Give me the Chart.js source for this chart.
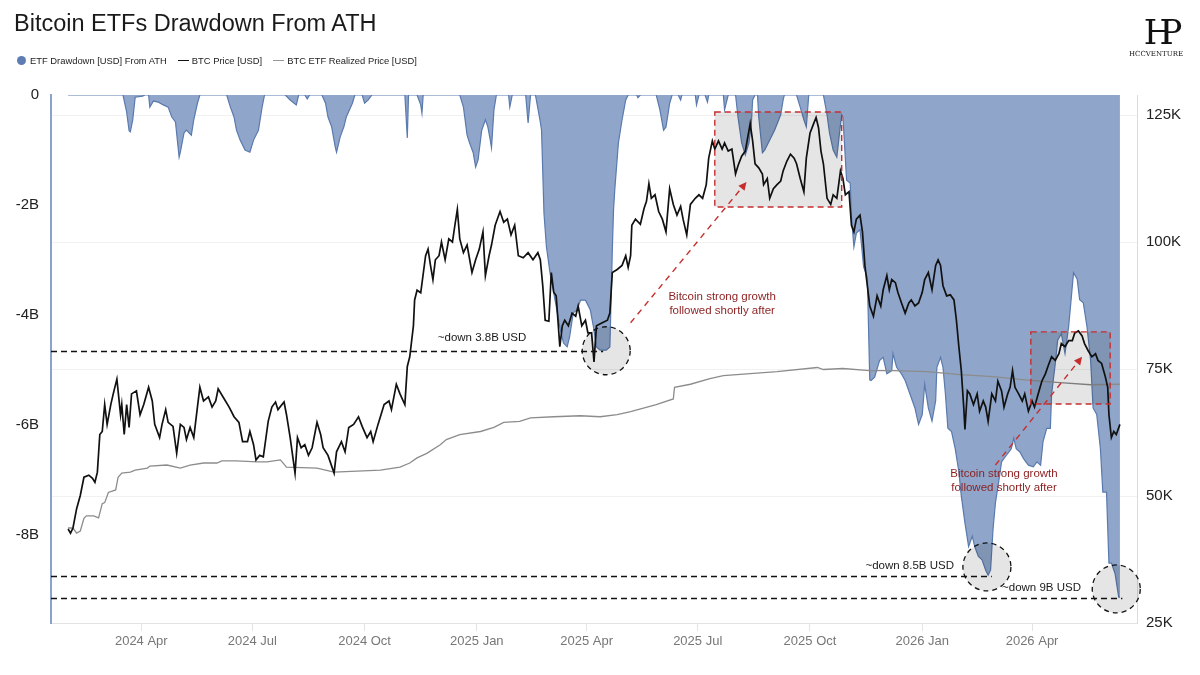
<!DOCTYPE html>
<html><head><meta charset="utf-8">
<script src="https://cdn.jsdelivr.net/npm/chart.js@4.4.1/dist/chart.umd.min.js"></script>
<style>
html,body{margin:0;padding:0;background:#fff;}
#wrap{position:relative;width:1200px;height:675px;font-family:"Liberation Sans",Arial,Helvetica,sans-serif;}
#c{position:absolute;left:0;top:0;}
#title{position:absolute;left:14px;top:10px;font-size:23.5px;color:#1a1a1a;z-index:2;}
#legend{position:absolute;left:17px;top:55px;font-size:9.4px;color:#222;display:flex;align-items:center;white-space:nowrap;z-index:2;}
#legend .it{display:flex;align-items:center;margin-right:11px;}
#legend .dot{width:9px;height:9px;border-radius:50%;background:#5d7db3;margin-right:4px;}
#legend .ln{width:11px;height:1.5px;margin-right:3px;}
#logo{position:absolute;left:1128px;top:14px;width:56px;text-align:center;z-index:2;color:#111;font-family:"DejaVu Serif","Liberation Serif",serif;}
#logo .big{font-size:34px;line-height:36px;letter-spacing:-14px;font-weight:normal;}
#logo .small{font-size:7px;line-height:8px;letter-spacing:0px;}
</style></head>
<body>
<div id="wrap">
  <canvas id="c" width="1200" height="675"></canvas>
  <div id="title">Bitcoin ETFs Drawdown From ATH</div>
  <div id="legend">
    <div class="it"><div class="dot"></div>ETF Drawdown [USD] From ATH</div>
    <div class="it"><div class="ln" style="background:#111"></div>BTC Price [USD]</div>
    <div class="it"><div class="ln" style="background:#999"></div>BTC ETF Realized Price [USD]</div>
  </div>
  <div id="logo"><div class="big">HP</div><div class="small">HCCVENTURE</div></div>
</div>
<script>
// x values: days since 2024-01-01
const monthTickDays = [91,182,274,366,456,547,639,731,821];
const monthTickLabels = ['2024 Apr','2024 Jul','2024 Oct','2025 Jan','2025 Apr','2025 Jul','2025 Oct','2026 Jan','2026 Apr'];
const leftTicks = [-8,-6,-4,-2,0];
const rightTicks = [25,50,75,100,125];

// ETF drawdown from ATH, billions USD
const drawdownB = [[31,0],[76,0],[79,-0.31],[81,-0.65],[82,-0.67],[84,-0.45],[86,-0.04],[92,-0.02],[94,0],
[97,0],[98,-0.22],[101,-0.11],[105,-0.13],[109,-0.18],[113,-0.22],[116,-0.4],[119,-0.49],[122,-1.13],[123,-1.04],[126,-0.69],[128,-0.64],[132,-0.73],[134,-0.45],[137,-0.15],[139,0],
[161,0],[164,-0.22],[167,-0.4],[169,-0.64],[172,-0.82],[176,-1.0],[180,-1.04],[183,-0.82],[187,-0.64],[190,-0.22],[192,0],
[209,0],[213,-0.09],[218,-0.18],[220,0],[225,0],[227,-0.07],[229,0],
[239,0],[242,-0.15],[244,-0.4],[247,-0.58],[250,-0.95],[251,-1.04],[254,-0.76],[257,-0.58],[259,-0.4],[264,-0.15],[266,0],
[272,0],[274,-0.15],[277,-0.09],[280,0],
[307,0],[309,-0.78],[310,0],
[317,0],[320,-0.18],[321,-0.33],[322,0],
[352,0],[355,-0.22],[358,-0.73],[360,-0.87],[363,-1.05],[365,-1.31],[367,-1.18],[370,-0.64],[373,-0.45],[375,-0.58],[377,-0.82],[378,-0.96],[380,-0.27],[382,0],
[392,0],[393,-0.22],[395,0],
[406,0],[408,-0.51],[410,0],
[414,0],[418,-0.49],[419,-0.64],[421,-2.15],[423,-2.76],[426,-3.24],[429,-3.6],[432,-3.96],[434,-4.22],[437,-4.51],[440,-4.58],[442,-4.4],[445,-3.96],[448,-3.91],[451,-3.73],[455,-3.73],[459,-3.91],[462,-4.27],[464,-4.58],[467,-4.64],[472,-4.64],[475,-4.58],[476,-3.73],[477,-2.82],[478,-2.09],[479,-1.73],[482,-0.87],[485,-0.45],[488,-0.09],[490,0],
[497,0],[498,-0.05],[500,0],
[513,0],[516,-0.27],[519,-0.64],[521,-0.58],[524,-0.15],[526,0],
[531,0],[533,-0.09],[534,0],
[545,0],[546,-0.18],[548,0],
[553,0],[555,-0.13],[556,0],
[568,0],[569,-0.27],[572,0],
[578,0],[580,-0.4],[583,-0.87],[586,-1.09],[589,-0.87],[591,-0.51],[592,-0.09],[594,0],
[596,0],[597,-0.4],[600,-1.05],[602,-1.0],[606,-0.82],[610,-0.64],[615,-0.36],[617,-0.09],[618,0],
[628,0],[631,-0.22],[634,-0.45],[636,-0.58],[638,0],
[650,0],[653,-0.36],[655,-0.69],[658,-1.0],[661,-1.13],[663,-0.73],[665,-0.36],[666,-0.4],[669,-1.55],[672,-1.6],[673,-2.22],[675,-2.76],[677,-2.51],[680,-2.45],[683,-3.13],[686,-3.31],[688,-5.18],[689,-5.19],[692,-5.13],[696,-4.83],[699,-4.77],[702,-5.07],[706,-5.01],[707,-4.70],[710,-4.95],[714,-5.07],[717,-5.19],[721,-5.44],[725,-5.69],[728,-5.99],[731,-5.81],[733,-5.26],[736,-5.69],[739,-5.93],[742,-5.56],[743,-4.95],[746,-4.77],[748,-4.95],[750,-5.44],[752,-6.06],[755,-6.12],[758,-6.43],[761,-6.85],[763,-7.29],[766,-7.78],[769,-8.21],[772,-8.02],[774,-8.21],[777,-8.39],[780,-8.45],[783,-8.64],[785,-8.73],[787,-8.64],[789,-7.90],[791,-7.41],[794,-6.98],[796,-6.67],[800,-6.55],[804,-6.43],[806,-6.24],[808,-6.43],[811,-6.49],[814,-6.61],[818,-6.73],[822,-6.76],[825,-6.67],[828,-6.73],[830,-6.30],[833,-6.06],[836,-6.06],[837,-5.44],[840,-4.89],[842,-4.46],[845,-4.34],[848,-4.70],[851,-4.21],[853,-3.72],[855,-3.23],[858,-3.35],[860,-3.72],[863,-3.78],[866,-4.21],[869,-4.83],[871,-5.69],[874,-5.81],[877,-6.43],[879,-7.22],[882,-7.22],[884,-8.51],[886,-8.51],[889,-8.70],[892,-9.13],[893,-9.13]];

// BTC price, thousands USD
const btcPrice = [[31,43.5],[33,42.7],[35,43.7],[38,47.5],[41,50.1],[44,53.7],[48,54.1],[51,53.5],[53,52.7],[55,54.7],[57,62.1],[59,62.7],[61,68.0],[63,64.1],[66,68.0],[68,70.1],[71,73.0],[74,66.0],[75,68.0],[77,62.1],[79,68.0],[81,63.5],[83,70.1],[87,70.7],[90,66.0],[93,68.0],[97,71.4],[100,68.7],[102,64.1],[106,61.5],[108,64.1],[111,67.0],[113,64.5],[117,63.7],[120,58.4],[123,64.1],[126,63.5],[128,61.1],[131,63.5],[134,61.5],[137,67.5],[139,71.4],[142,68.7],[146,69.5],[149,67.5],[152,68.7],[154,71.1],[158,69.5],[163,67.5],[167,65.6],[171,64.5],[174,60.7],[178,60.7],[180,62.7],[183,60.1],[185,57.1],[188,58.0],[191,57.7],[195,64.7],[198,67.5],[201,68.5],[203,67.0],[208,68.5],[210,66.0],[213,61.5],[217,54.5],[219,61.5],[222,59.5],[225,60.1],[228,58.0],[231,59.5],[235,64.5],[238,62.1],[240,59.5],[244,58.0],[249,54.5],[251,58.7],[255,60.7],[258,58.7],[261,63.5],[265,64.1],[269,65.6],[272,63.7],[276,61.5],[279,62.7],[281,60.7],[285,64.1],[290,68.0],[294,68.7],[296,67.0],[300,72.0],[303,70.1],[307,68.0],[309,75.5],[311,77.4],[314,83.5],[315,88.6],[317,90.5],[320,90.0],[324,97.3],[326,98.6],[328,95.4],[330,92.6],[332,96.5],[335,97.3],[337,100.0],[340,96.5],[343,100.6],[346,100.0],[348,103.3],[350,106.4],[352,100.6],[355,97.9],[358,99.4],[362,94.0],[365,96.5],[368,98.6],[371,102.0],[373,93.4],[376,97.3],[378,99.4],[381,103.3],[385,106.0],[388,103.9],[391,104.5],[394,101.4],[397,103.3],[400,97.3],[404,96.9],[408,97.9],[412,96.5],[416,97.9],[418,96.5],[420,91.4],[422,84.6],[425,84.4],[427,94.0],[429,90.1],[431,89.4],[434,79.4],[436,83.5],[438,84.6],[441,83.5],[444,86.0],[447,85.4],[449,87.4],[452,83.5],[455,84.6],[457,82.1],[460,82.1],[462,76.4],[464,83.5],[468,84.0],[473,84.6],[475,86.0],[477,94.0],[481,94.6],[485,95.4],[488,97.3],[490,95.0],[492,97.3],[493,103.3],[496,104.5],[500,103.5],[503,106.6],[505,108.0],[507,111.5],[509,108.6],[512,109.3],[515,106.0],[518,104.5],[521,102.0],[524,110.5],[527,107.4],[530,105.3],[533,107.0],[535,104.5],[538,101.4],[541,107.4],[545,108.6],[548,109.3],[551,108.6],[554,111.3],[556,116.5],[559,119.9],[561,118.3],[564,119.9],[567,118.3],[569,119.5],[572,117.9],[575,118.3],[578,113.4],[580,115.0],[583,116.9],[586,117.9],[588,120.6],[590,123.3],[592,119.9],[594,115.4],[597,114.6],[600,113.4],[601,111.3],[604,112.5],[606,108.6],[609,110.5],[612,111.3],[615,112.0],[617,114.0],[620,115.9],[623,117.3],[626,116.5],[628,115.4],[631,112.5],[634,109.9],[636,116.5],[639,121.4],[642,123.3],[644,124.5],[646,122.5],[648,117.9],[650,115.4],[653,108.6],[656,107.4],[658,109.3],[661,108.6],[664,114.0],[666,112.5],[668,109.3],[671,109.9],[673,103.3],[675,102.0],[677,104.5],[680,105.3],[682,102.0],[684,95.4],[686,91.4],[688,87.4],[691,85.4],[694,89.4],[697,87.4],[699,90.6],[702,93.4],[704,90.6],[706,92.6],[709,92.0],[711,90.1],[714,88.0],[717,86.0],[720,88.0],[722,88.6],[725,87.4],[728,88.0],[731,90.1],[733,92.6],[736,94.0],[739,90.6],[742,95.4],[744,96.5],[746,95.4],[748,91.4],[751,89.4],[754,89.6],[757,88.6],[759,84.6],[761,79.4],[763,74.7],[765,67.5],[766,63.1],[768,70.7],[770,70.1],[773,68.0],[776,70.1],[778,66.7],[781,68.7],[783,67.5],[785,64.7],[788,70.1],[791,68.7],[793,72.6],[796,70.7],[798,67.5],[801,70.1],[803,71.4],[805,74.7],[807,71.4],[810,70.1],[813,68.7],[815,70.1],[818,66.7],[821,68.7],[823,67.5],[826,70.1],[829,72.6],[832,74.1],[834,75.5],[837,77.4],[840,76.7],[843,78.0],[845,80.0],[848,79.4],[851,80.6],[854,80.6],[856,82.1],[859,82.5],[862,81.5],[864,80.0],[867,78.6],[870,77.4],[873,78.0],[875,76.7],[878,76.1],[881,73.5],[883,71.4],[884,66.0],[886,61.5],[888,62.7],[890,62.1],[893,64.1]];

// BTC ETF realized price, thousands USD
const realizedPrice = [[31,43.7],[35,43.7],[38,42.7],[41,43.1],[44,45.6],[46,46.1],[52,46.1],[56,45.7],[59,48.5],[61,48.7],[64,50.7],[70,51.2],[72,53.7],[75,54.5],[82,54.7],[86,55.1],[96,55.5],[98,55.9],[112,56.1],[123,55.5],[131,56.1],[142,56.5],[153,56.5],[157,56.9],[169,56.9],[186,56.7],[194,56.7],[205,57.1],[210,55.7],[235,55.5],[249,54.7],[287,55.1],[303,55.7],[311,56.5],[317,57.5],[325,58.4],[336,60.1],[341,61.1],[352,62.1],[369,62.7],[380,63.5],[388,64.5],[401,64.7],[410,65.4],[429,65.6],[451,65.8],[467,65.6],[481,66.0],[492,66.6],[513,68.0],[527,69.1],[528,71.4],[541,72.0],[557,73.1],[568,73.7],[590,74.1],[612,74.5],[645,75.3],[650,74.9],[666,75.1],[688,74.7],[707,74.7],[735,74.5],[762,73.9],[789,73.5],[817,72.8],[844,72.3],[869,71.9],[893,72.0]];

// annotations (data units: day, left axis B / right axis K)
const noteBoxes = [{d0:561,d1:665,top:125.6,bottom:106.9},{d0:820,d1:885,top:82.3,bottom:68.1}];
const noteCircles = [{d:472,v:-4.65},{d:784,v:-8.58},{d:890,v:-8.98}];
const noteLines = [{v:-4.655,to:469.5},{v:-8.745,to:788},{v:-9.145,to:895}];
const noteArrows = [{d0:492,k0:84.1,d1:587,k1:111.8},{d0:791,k0:56.1,d1:862,k1:77.4}];
const noteTexts = [
  {d:334,v:-4.42,text:'~down 3.8B USD',color:'#1a1a1a',align:'left'},
  {d:567,v:-3.67,text:'Bitcoin strong growth',color:'#8b1f1f',align:'center'},
  {d:567,v:-3.93,text:'followed shortly after',color:'#8b1f1f',align:'center'},
  {d:798,v:-6.89,text:'Bitcoin strong growth',color:'#8b1f1f',align:'center'},
  {d:798,v:-7.15,text:'followed shortly after',color:'#8b1f1f',align:'center'},
  {d:757,v:-8.56,text:'~down 8.5B USD',color:'#1a1a1a',align:'right'},
  {d:796.4,v:-8.96,text:'~down 9B USD',color:'#1a1a1a',align:'left'}
];

const toXY = arr => arr.map(p => ({x:p[0], y:p[1]}));

const notesPlugin = {
  id:'notes',
  afterDatasetsDraw(chart){
    const {ctx} = chart; const x = chart.scales.x, yL = chart.scales.yL, yR = chart.scales.yR;
    ctx.save();
    noteBoxes.forEach(b=>{
      const x1=x.getPixelForValue(b.d0), x2=x.getPixelForValue(b.d1);
      const y1=yR.getPixelForValue(b.top), y2=yR.getPixelForValue(b.bottom);
      ctx.setLineDash([]);
      ctx.fillStyle='rgba(0,0,0,0.1)';
      ctx.fillRect(x1,y1,x2-x1,y2-y1);
      ctx.setLineDash([6,4]); ctx.strokeStyle='#c62e2e'; ctx.lineWidth=1.4;
      ctx.strokeRect(x1,y1,x2-x1,y2-y1);
    });
    noteCircles.forEach(c=>{
      const cx=x.getPixelForValue(c.d), cy=yL.getPixelForValue(c.v);
      ctx.beginPath(); ctx.arc(cx,cy,24,0,Math.PI*2);
      ctx.setLineDash([]); ctx.fillStyle='rgba(0,0,0,0.1)'; ctx.fill();
      ctx.setLineDash([5,4]); ctx.strokeStyle='#111'; ctx.lineWidth=1.3; ctx.stroke();
    });
    noteLines.forEach(l=>{
      const y=Math.round(yL.getPixelForValue(l.v))+0.5;
      ctx.beginPath(); ctx.moveTo(chart.chartArea.left,y); ctx.lineTo(x.getPixelForValue(l.to),y);
      ctx.setLineDash([6,4]); ctx.strokeStyle='#111'; ctx.lineWidth=1.4; ctx.stroke();
    });
    noteArrows.forEach(a=>{
      const x0=x.getPixelForValue(a.d0), y0=yR.getPixelForValue(a.k0);
      const x1=x.getPixelForValue(a.d1), y1=yR.getPixelForValue(a.k1);
      const ang=Math.atan2(y1-y0,x1-x0);
      ctx.beginPath(); ctx.moveTo(x0,y0); ctx.lineTo(x1-6*Math.cos(ang),y1-6*Math.sin(ang));
      ctx.setLineDash([6,5]); ctx.strokeStyle='#c62e2e'; ctx.lineWidth=1.4; ctx.stroke();
      ctx.setLineDash([]); ctx.fillStyle='#c62e2e';
      ctx.beginPath(); ctx.moveTo(x1,y1);
      ctx.lineTo(x1-8*Math.cos(ang)+4*Math.sin(ang), y1-8*Math.sin(ang)-4*Math.cos(ang));
      ctx.lineTo(x1-8*Math.cos(ang)-4*Math.sin(ang), y1-8*Math.sin(ang)+4*Math.cos(ang));
      ctx.closePath(); ctx.fill();
    });
    ctx.setLineDash([]);
    ctx.font='11.5px "Liberation Sans", Arial, sans-serif';
    ctx.textBaseline='middle';
    noteTexts.forEach(t=>{
      ctx.fillStyle=t.color; ctx.textAlign=t.align;
      ctx.fillText(t.text, x.getPixelForValue(t.d), yL.getPixelForValue(t.v));
    });
    ctx.restore();
  }
};

Chart.defaults.font.family='"Liberation Sans", Arial, sans-serif';
new Chart(document.getElementById('c').getContext('2d'), {
  type:'line',
  data:{datasets:[
    {label:'ETF Drawdown [USD] From ATH', data:toXY(drawdownB), yAxisID:'yL', borderColor:'#5a7aae', borderWidth:1.2, backgroundColor:'#8fa5c9', fill:'origin', pointRadius:0, tension:0, order:3},
    {label:'BTC Price [USD]', data:toXY(btcPrice), yAxisID:'yR', borderColor:'#111111', borderWidth:1.7, pointRadius:0, fill:false, tension:0, order:1},
    {label:'BTC ETF Realized Price [USD]', data:toXY(realizedPrice), yAxisID:'yR', borderColor:'#8c8c8c', borderWidth:1.3, pointRadius:0, fill:false, tension:0, order:2}
  ]},
  options:{
    responsive:false, animation:false, devicePixelRatio:1,
    layout:{padding:{top:95,left:0,right:0,bottom:0}},
    plugins:{legend:{display:false}, title:{display:false}, tooltip:{enabled:false}},
    scales:{
      x:{type:'linear', min:17, max:907,
        afterBuildTicks:s=>{s.ticks=monthTickDays.map(v=>({value:v}));},
        afterFit:s=>{s.height=52;},
        ticks:{autoSkip:false, maxRotation:0, color:'#777', font:{size:13}, padding:3,
          callback:v=>{const i=monthTickDays.indexOf(v); return i>=0?monthTickLabels[i]:'';}},
        grid:{drawOnChartArea:false, drawTicks:true, tickLength:8, color:'#e3e3e3'},
        border:{color:'#e3e3e3'}},
      yL:{position:'left', min:-9.6, max:0,
        afterBuildTicks:s=>{s.ticks=leftTicks.map(v=>({value:v}));},
        afterFit:s=>{s.width=51;},
        ticks:{color:'#222', font:{size:15}, padding:12, callback:v=>v===0?'0':v+'B'},
        grid:{drawOnChartArea:false, drawTicks:false},
        border:{color:'#8aa2cc', width:2}},
      yR:{position:'right', min:25, max:128.94,
        afterBuildTicks:s=>{s.ticks=rightTicks.map(v=>({value:v}));},
        afterFit:s=>{s.width=63;},
        ticks:{color:'#222', font:{size:15}, padding:9, callback:v=>v+'K'},
        grid:{drawOnChartArea:true, drawTicks:false, color:'#f1f1f1'},
        border:{color:'#dcdcdc'}}
    }
  },
  plugins:[notesPlugin]
});
</script>
</body></html>
